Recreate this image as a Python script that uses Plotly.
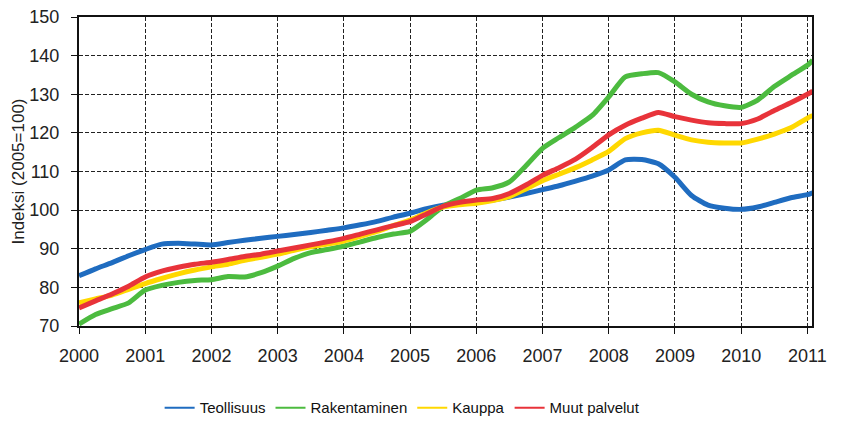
import plotly.graph_objects as go

t = [2000.00, 2000.25, 2000.50, 2000.75, 2001.00, 2001.25, 2001.50, 2001.75,
     2002.00, 2002.25, 2002.50, 2002.75, 2003.00, 2003.25, 2003.50, 2003.75,
     2004.00, 2004.25, 2004.50, 2004.75, 2005.00, 2005.25, 2005.50, 2005.75,
     2006.00, 2006.25, 2006.50, 2006.75, 2007.00, 2007.25, 2007.50, 2007.75,
     2008.00, 2008.25, 2008.50, 2008.75, 2009.00, 2009.25, 2009.50, 2009.75,
     2010.00, 2010.25, 2010.50, 2010.75, 2011.00, 2011.08]

teollisuus = [83.0, 84.8, 86.4, 88.2, 89.8, 91.2, 91.4, 91.2,
              91.0, 91.6, 92.2, 92.7, 93.2, 93.7, 94.2, 94.8,
              95.4, 96.2, 97.1, 98.2, 99.2, 100.4, 101.3, 101.8,
              102.0, 102.6, 103.4, 104.3, 105.3, 106.3, 107.5, 108.8,
              110.4, 113.0, 113.1, 112.0, 108.5, 103.8, 101.3, 100.5,
              100.2, 100.8, 102.0, 103.2, 104.0, 104.5]

rakentaminen = [70.5, 73.0, 74.5, 76.0, 79.3, 80.5, 81.3, 81.8,
                82.0, 82.8, 82.7, 83.8, 85.5, 87.5, 89.0, 89.8,
                90.7, 91.8, 92.9, 93.8, 94.5, 97.5, 101.0, 103.0,
                105.2, 105.8, 107.3, 111.5, 116.0, 118.8, 121.5, 124.5,
                129.3, 134.5, 135.3, 135.6, 133.2, 130.0, 128.0, 127.0,
                126.6, 128.5, 132.0, 134.8, 137.5, 138.8]

kauppa = [76.0, 77.0, 78.0, 79.5, 81.0, 82.3, 83.5, 84.5,
          85.3, 86.0, 87.0, 87.8, 88.6, 89.6, 90.5, 91.2,
          92.0, 93.2, 94.5, 96.0, 97.4, 99.3, 100.8, 101.4,
          101.8, 102.5, 103.5, 105.5, 107.6, 109.3, 111.0, 113.0,
          115.2, 118.5, 120.0, 120.7, 119.4, 118.2, 117.6, 117.4,
          117.4, 118.4, 119.7, 121.3, 123.8, 124.5]

muut_palvelut = [74.7, 76.5, 78.3, 80.3, 82.7, 84.2, 85.2, 86.0,
                 86.5, 87.2, 88.0, 88.6, 89.4, 90.2, 91.0, 91.8,
                 92.7, 93.8, 94.9, 96.0, 97.0, 99.0, 101.0, 102.0,
                 102.6, 103.0, 104.3, 106.5, 109.0, 111.0, 113.2, 116.2,
                 119.5, 122.0, 123.8, 125.3, 124.2, 123.3, 122.6, 122.4,
                 122.4, 123.6, 125.8, 127.8, 130.0, 130.8]

names = ["Teollisuus", "Rakentaminen", "Kauppa", "Muut palvelut"]
series = [teollisuus, rakentaminen, kauppa, muut_palvelut]
colors = ["#1f6cc0", "#4cbb3f", "#ffd800", "#e8333a"]

year_ticks = list(range(2000, 2012))
y_ticks = [70, 80, 90, 100, 110, 120, 130, 140, 150]

fig = go.Figure()
for name, vals, col in zip(names, series, colors):
    fig.add_trace(go.Scatter(x=t, y=vals, mode="lines", name=name,
                             line=dict(color=col, width=5, shape="spline", smoothing=0.6),
                             showlegend=False))
for name, col in zip(names, colors):
    fig.add_trace(go.Scatter(x=[None], y=[None], mode="lines", name=name,
                             line=dict(color=col, width=2), showlegend=True))

font_family = "Liberation Sans, Arial, sans-serif"

fig.update_layout(
    width=843, height=424,
    margin=dict(l=79, r=31, t=17, b=98, autoexpand=False),
    paper_bgcolor="white", plot_bgcolor="white",
    font=dict(family=font_family, color="#222222", size=18),
    showlegend=True,
    legend=dict(orientation="h", x=0.11, xanchor="left", y=-0.265, yanchor="middle",
                font=dict(size=15, color="#111111"), itemwidth=30,
                tracegroupgap=0, bgcolor="rgba(0,0,0,0)"),
    xaxis=dict(range=[2000, 2011.07], tickvals=year_ticks,
               ticktext=[str(y) for y in year_ticks],
               showgrid=True, gridcolor="#222222", griddash="4px,2px", gridwidth=1,
               showline=True, linecolor="#111111", linewidth=2, mirror=True,
               ticks="outside", ticklen=6, tickcolor="#111111",
               ticklabelstandoff=6, zeroline=False,
               tickfont=dict(size=18)),
    yaxis=dict(range=[70, 150], tickvals=y_ticks,
               showgrid=True, gridcolor="#222222", griddash="4px,2px", gridwidth=1,
               showline=True, linecolor="#111111", linewidth=2, mirror=True,
               ticks="outside", ticklen=6, tickcolor="#111111",
               ticklabelstandoff=8,
               zeroline=False, tickfont=dict(size=18),
               title=dict(text="Indeksi (2005=100)", font=dict(size=17), standoff=0)),
)

fig.write_html("out.html", config={"displayModeBar": False},
               post_script="document.body.style.margin='0';document.body.style.overflow='hidden';")
